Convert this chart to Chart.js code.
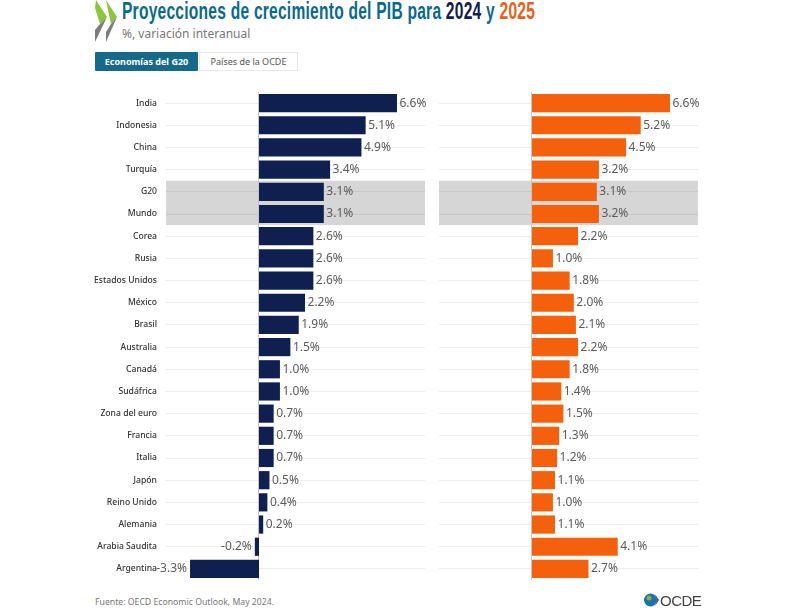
<!DOCTYPE html>
<html lang="es">
<head>
<meta charset="utf-8">
<title>Proyecciones de crecimiento del PIB</title>
<script src="https://cdn.jsdelivr.net/npm/chart.js@4/dist/chart.umd.min.js"></script>
<style>
  html, body { margin: 0; padding: 0; background: #fff; }
  body { position: relative; width: 807px; height: 611px; overflow: hidden; font-family: "Noto Sans", sans-serif; }
  .abs { position: absolute; white-space: nowrap; }
  #title { left: 122px; top: -3px; font: bold 23px/28px "Liberation Sans", sans-serif; color: #0a6a8c; letter-spacing: 0.35px; transform: scaleX(0.677); transform-origin: left top; }
  #title .y24 { color: #0f2050; }
  #title .y25 { color: #e8601a; }
  #subtitle { left: 122px; top: 25px; font-size: 12px; line-height: 18px; color: #777; }
  .tab { top: 52px; height: 19px; line-height: 19px; font-size: 9px; text-align: center; box-sizing: border-box; }
  #tab1 { left: 95px; width: 103px; background: #156a8a; color: #fff; font-weight: 700; border-radius: 1px; }
  #tab2 { left: 199px; width: 99px; background: #fff; color: #555; border: 1px solid #e8e8e8; line-height: 17px; }
  #source { left: 95px; top: 595px; font-size: 8.7px; line-height: 14px; color: #777; }
  #ocde { left: 660px; top: 592px; font: 15px/18px "Liberation Sans", sans-serif; color: #444; letter-spacing: -0.5px; }
  canvas { position: absolute; }
  #wrap24 { position: absolute; left: 60px; top: 86px; width: 380px; height: 500px; }
  #wrap25 { position: absolute; left: 439px; top: 86px; width: 270px; height: 500px; }
</style>
</head>
<body>
<svg class="abs" style="left:94px;top:0" width="28" height="44" viewBox="0 0 28 44">
  <polygon points="2,0 13,17 6,24 1,8" fill="#8cc63f"/>
  <polygon points="6,24 13,17 1,42 1,30" fill="#7d7d7d"/>
  <polygon points="12,0 23,17 17,24 14,10" fill="#8cc63f"/>
  <polygon points="17,24 23,17 12,42 12,32" fill="#7d7d7d"/>
</svg>
<div class="abs" id="title">Proyecciones de crecimiento del PIB para <span class="y24">2024</span> y <span class="y25">2025</span></div>
<div class="abs" id="subtitle">%, variación interanual</div>
<div class="abs tab" id="tab1">Economías del G20</div>
<div class="abs tab" id="tab2">Países de la OCDE</div>
<div id="wrap24"><canvas id="chart24"></canvas></div>
<div id="wrap25"><canvas id="chart25"></canvas></div>
<div class="abs" id="source">Fuente: OECD Economic Outlook, May 2024.</div>
<svg class="abs" style="left:644px;top:592px" width="17" height="16" viewBox="0 0 17 16">
  <circle cx="6.5" cy="8" r="6.5" fill="#1f6fb0"/>
  <circle cx="5" cy="6" r="2.5" fill="#7fb23f"/>
  <path d="M11 2 L15 8 L11 14 L13 8 Z" fill="#555"/>
</svg>
<div class="abs" id="ocde">OCDE</div>

<script>
const categories = ['India', 'Indonesia', 'China', 'Turquía', 'G20', 'Mundo', 'Corea', 'Rusia', 'Estados Unidos', 'México', 'Brasil', 'Australia', 'Canadá', 'Sudáfrica', 'Zona del euro', 'Francia', 'Italia', 'Japón', 'Reino Unido', 'Alemania', 'Arabia Saudita', 'Argentina'];
const values2024 = [6.6, 5.1, 4.9, 3.4, 3.1, 3.1, 2.6, 2.6, 2.6, 2.2, 1.9, 1.5, 1.0, 1.0, 0.7, 0.7, 0.7, 0.5, 0.4, 0.2, -0.2, -3.3];
const values2025 = [6.6, 5.2, 4.5, 3.2, 3.1, 3.2, 2.2, 1.0, 1.8, 2.0, 2.1, 2.2, 1.8, 1.4, 1.5, 1.3, 1.2, 1.1, 1.0, 1.1, 4.1, 2.7];
const highlighted = ['G20', 'Mundo'];
const axisMin = -4.45;
const axisMax = 7.94;

// grey band behind G20 / Mundo and the zero line
const bandPlugin = {
  id: 'band',
  beforeDatasetsDraw(chart) {
    const { ctx, chartArea, scales } = chart;
    const step = scales.y.getPixelForTick(1) - scales.y.getPixelForTick(0);
    const first = categories.indexOf(highlighted[0]);
    const last = categories.indexOf(highlighted[highlighted.length - 1]);
    const top = scales.y.getPixelForTick(first) - step / 2;
    const bottom = scales.y.getPixelForTick(last) + step / 2;
    ctx.save();
    ctx.globalCompositeOperation = 'multiply';
    ctx.fillStyle = '#d6d6d6';
    ctx.fillRect(chartArea.left, top, chartArea.width, bottom - top);
    ctx.globalCompositeOperation = 'source-over';
    ctx.strokeStyle = '#c4c4c4';
    ctx.lineWidth = 1;
    const zero = Math.round(scales.x.getPixelForValue(0)) - 0.5;
    ctx.beginPath();
    ctx.moveTo(zero, chartArea.top);
    ctx.lineTo(zero, chartArea.bottom);
    ctx.stroke();
    ctx.restore();
  }
};

const valueLabels = {
  id: 'valueLabels',
  afterDatasetsDraw(chart) {
    const { ctx } = chart;
    const ds = chart.data.datasets[0];
    ctx.save();
    ctx.font = '12px "Noto Sans"';
    ctx.fillStyle = '#5c5c5c';
    ctx.textBaseline = 'middle';
    chart.getDatasetMeta(0).data.forEach((bar, i) => {
      const v = ds.data[i];
      ctx.textAlign = v < 0 ? 'right' : 'left';
      ctx.fillText(v.toFixed(1) + '%', bar.x + (v < 0 ? -3 : 2.5), bar.y);
    });
    ctx.restore();
  }
};

function makeChart(id, values, color, showLabels, axisWidth, rightPad) {
  return new Chart(document.getElementById(id), {
    type: 'bar',
    data: {
      labels: categories,
      datasets: [{ data: values, backgroundColor: color, barPercentage: 1, categoryPercentage: 0.82 }],
    },
    options: {
      indexAxis: 'y',
      responsive: true,
      maintainAspectRatio: false,
      animation: false,
      layout: { padding: { top: 6, bottom: 6, right: rightPad, left: 0 } },
      plugins: { legend: { display: false }, tooltip: { enabled: false } },
      scales: {
        x: { min: axisMin, max: axisMax, display: false, grid: { display: false } },
        y: {
          afterFit(scale) {
            scale.width = axisWidth;
            // the tick labels otherwise shrink the plot area
            scale.paddingTop = 0;
            scale.paddingBottom = 0;
          },
          border: { display: false },
          grid: { offset: false, color: '#eeeeee', drawTicks: false },
          ticks: {
            display: showLabels,
            autoSkip: false,
            padding: 9,
            color: '#333',
            font: { family: '"Noto Sans"', size: 8.6, weight: '500' },
          },
        },
      },
    },
    plugins: [bandPlugin, valueLabels],
  });
}

makeChart('chart24', values2024, '#0f2050', true, 106, 15);
makeChart('chart25', values2025, '#f4600c', false, 0, 11);
</script>
</body>
</html>
